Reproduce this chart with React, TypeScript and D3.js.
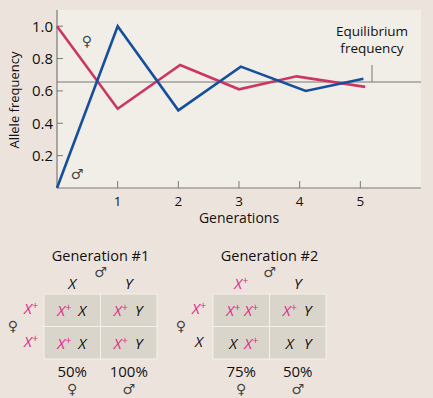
import React from "react";
import * as d3 from "d3";

// allele frequencies
const femaleGen = [0, 1, 2.03, 3, 3.95, 5.08];
const femaleFreq = [1.0, 0.49, 0.76, 0.61, 0.69, 0.625];
const maleGen = [0, 1, 2, 3.03, 4.1, 5.05];
const maleFreq = [0, 1.0, 0.48, 0.75, 0.6, 0.675];
const equilibrium = 0.655;
const xTicks = [1, 2, 3, 4, 5];
const yTicks = [0.2, 0.4, 0.6, 0.8, 1.0];

// punnett squares
const gen1Cols = ["X", "Y"];
const gen1Rows = ["X+", "X+"];
const gen1Pcts = ["50%", "100%"];
const gen2Cols = ["X+", "Y"];
const gen2Rows = ["X+", "X"];
const gen2Pcts = ["75%", "50%"];

const PINK = "#cb3664";
const BLUE = "#164f9b";
const MAGENTA = "#e0288a";
const FONT = "'Open Sans', sans-serif";
const SYM = "'DejaVu Sans', sans-serif";

function Allele({ a, x, y, size = 15 }: { a: string; x: number; y: number; size?: number }) {
  const plus = a.endsWith("+");
  return (
    <text x={x} y={y} fontFamily={FONT} fontStyle="italic" fontSize={size} fill={plus ? MAGENTA : "#111"} textAnchor="middle">
      {a[0]}
      {plus ? <tspan fontSize={size * 0.7} dy={-5}>+</tspan> : null}
    </text>
  );
}

function Punnett({ title, cols, rows, pcts, x0, x1, labelX }: any) {
  const xb = d3.scaleBand<number>().domain([0, 1]).range([x0, x1]);
  const yb = d3.scaleBand<number>().domain([0, 1]).range([294, 359]);
  const cx = (i: number) => (xb(i) as number) + xb.bandwidth() / 2;
  const cy = (j: number) => (yb(j) as number) + yb.bandwidth() / 2;
  return (
    <g>
      <text x={(x0 + x1) / 2} y={261} textAnchor="middle" fontFamily={FONT} fontSize={14.5} fill="#111">{title}</text>
      <text x={(x0 + x1) / 2} y={277} textAnchor="middle" fontFamily={SYM} fontSize={14} fill="#444">♂</text>
      <text x={labelX - 18} y={331} textAnchor="middle" fontFamily={SYM} fontSize={14} fill="#444">♀</text>
      {cols.map((c: string, i: number) => (
        <Allele key={"c" + i} a={c} x={cx(i)} y={289} />
      ))}
      {rows.map((r: string, j: number) => (
        <Allele key={"r" + j} a={r} x={labelX} y={cy(j) + 4} />
      ))}
      {rows.map((r: string, j: number) =>
        cols.map((c: string, i: number) => (
          <g key={j + "-" + i}>
            <rect x={xb(i)} y={yb(j)} width={xb.bandwidth()} height={yb.bandwidth()} fill="#dad5ca" stroke="#f4f1ec" strokeWidth={1} />
            <Allele a={r} x={cx(i) - 8} y={cy(j) + 6} />
            <Allele a={c} x={cx(i) + 10} y={cy(j) + 6} />
          </g>
        ))
      )}
      {pcts.map((p: string, i: number) => (
        <g key={"p" + i}>
          <text x={cx(i)} y={377} textAnchor="middle" fontFamily={FONT} fontSize={15} fill="#111">{p}</text>
          <text x={cx(i)} y={394} textAnchor="middle" fontFamily={SYM} fontSize={14} fill="#444">{i === 0 ? "♀" : "♂"}</text>
        </g>
      ))}
    </g>
  );
}

export default function App() {
  const x = d3.scaleLinear().domain([0, 6]).range([57, 421]);
  const y = d3.scaleLinear().domain([0, 1.1]).range([188, 10]);
  const line = d3
    .line<[number, number]>()
    .x((d) => x(d[0]))
    .y((d) => y(d[1]));
  const female = femaleGen.map((g, i) => [g, femaleFreq[i]] as [number, number]);
  const male = maleGen.map((g, i) => [g, maleFreq[i]] as [number, number]);
  const eqY = y(equilibrium);

  return (
    <svg width={433} height={398} style={{ position: "absolute", left: 0, top: 0 }}>
      <rect width={433} height={398} fill="#ede3dd" />
      <rect x={x(0)} y={y(1.1)} width={x(6) - x(0)} height={y(0) - y(1.1)} fill="#f1eee8" />

      {/* axes */}
      <line x1={x(0)} x2={x(0)} y1={y(1.1)} y2={y(0)} stroke="#7a7a7a" strokeWidth={1.2} />
      <line x1={x(0)} x2={x(6)} y1={y(0)} y2={y(0)} stroke="#7a7a7a" strokeWidth={1.2} />
      {yTicks.map((t) => (
        <g key={t}>
          <line x1={x(0)} x2={x(0) + 6} y1={y(t)} y2={y(t)} stroke="#7a7a7a" />
          <text x={x(0) - 4} y={y(t) + 5.5} textAnchor="end" fontFamily={FONT} fontSize={15} fill="#111">
            {d3.format(".1f")(t)}
          </text>
        </g>
      ))}
      {xTicks.map((t) => (
        <g key={t}>
          <line x1={x(t)} x2={x(t)} y1={y(0)} y2={y(0) - 7} stroke="#7a7a7a" />
          <text x={x(t)} y={y(0) + 17.5} textAnchor="middle" fontFamily={FONT} fontSize={13.5} fill="#111">{t}</text>
        </g>
      ))}
      <text x={239} y={223} textAnchor="middle" fontFamily={FONT} fontSize={14} fill="#111">Generations</text>
      <text transform="translate(19,100) rotate(-90)" textAnchor="middle" fontFamily={FONT} fontSize={13} fill="#111">Allele frequency</text>

      {/* equilibrium */}
      <line x1={x(0)} x2={x(6)} y1={eqY} y2={eqY} stroke="#777" strokeWidth={1} />
      <line x1={372} x2={372} y1={eqY - 17} y2={eqY} stroke="#777" strokeWidth={1} />
      <text x={372} y={35.5} textAnchor="middle" fontFamily={FONT} fontSize={13.5} fill="#111">Equilibrium</text>
      <text x={372} y={52.5} textAnchor="middle" fontFamily={FONT} fontSize={13.5} fill="#111">frequency</text>

      <path d={line(female) as string} fill="none" stroke={PINK} strokeWidth={2.6} strokeLinejoin="miter" />
      <path d={line(male) as string} fill="none" stroke={BLUE} strokeWidth={2.6} strokeLinejoin="miter" />
      <text x={87} y={46} textAnchor="middle" fontFamily={SYM} fontSize={14} fill="#444">♀</text>
      <text x={77} y={179} textAnchor="middle" fontFamily={SYM} fontSize={14} fill="#444">♂</text>

      <Punnett title="Generation #1" cols={gen1Cols} rows={gen1Rows} pcts={gen1Pcts} x0={44} x1={157} labelX={31} />
      <Punnett title="Generation #2" cols={gen2Cols} rows={gen2Rows} pcts={gen2Pcts} x0={213} x1={326} labelX={199} />
    </svg>
  );
}
